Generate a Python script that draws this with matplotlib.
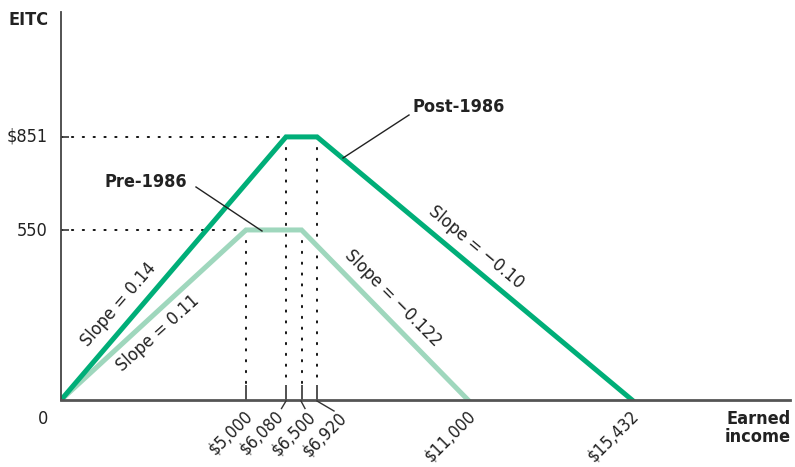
import matplotlib
matplotlib.use("Agg")
import matplotlib.pyplot as plt
from matplotlib.lines import Line2D

plt.rcParams['font.family'] = ['DejaVu Sans']
plt.rcParams['font.stretch'] = 'condensed'

# ---- data ----
post_x = [0, 6080, 6920, 15432]
post_y = [0, 851, 851, 0]
pre_x = [0, 5000, 6500, 11000]
pre_y = [0, 550, 550, 0]
xtick_vals = [5000, 6080, 6500, 6920]
xlabel_vals = [5000, 6080, 6500, 6920, 11000, 15432]
xtick_labels = ['\\$5,000', '\\$6,080', '\\$6,500', '\\$6,920', '\\$11,000', '\\$15,432']
ytick_vals = [550, 851]
ytick_labels = ['550', '\\$851']

POST_C = '#00AE78'
PRE_C = '#9FD7BD'
W, H = 795, 467
XMAX, YMAX = 19700, 1255

fig = plt.figure(figsize=(W / 100, H / 100), dpi=100)
L, R, B, T = 61, 790, 400, 12
ax = fig.add_axes([L / W, 1 - B / H, (R - L) / W, (B - T) / H])
ax.set_xlim(0, XMAX)
ax.set_ylim(0, YMAX)

def fx(px):
    return px / W

def fy(py):
    return 1 - py / H

def dx(px):
    return (px - L) / (R - L) * XMAX

def dy(py):
    return (B - py) / (B - T) * YMAX

dot = dict(color='black', lw=1.3, linestyle=(0, (0.8, 5.2)), dash_capstyle='round', zorder=1)
# horizontal guides
ax.plot([0, post_x[1]], [post_y[1]] * 2, **dot)
ax.plot([0, pre_x[1]], [pre_y[1]] * 2, **dot)
# vertical guides
tick_top = dy(385)
ax.plot([pre_x[1]] * 2, [pre_y[1], tick_top], **dot)
ax.plot([pre_x[2]] * 2, [pre_y[2], tick_top], **dot)
ax.plot([post_x[1]] * 2, [post_y[1], tick_top], **dot)
ax.plot([post_x[2]] * 2, [post_y[2], tick_top], **dot)

ax.plot(pre_x, pre_y, color=PRE_C, lw=3.6, solid_joinstyle='miter', zorder=3)
ax.plot(post_x, post_y, color=POST_C, lw=3.6, solid_joinstyle='miter', zorder=4)

for s in ['top', 'right']:
    ax.spines[s].set_visible(False)
ax.spines['left'].set_color('#444444')
ax.spines['left'].set_linewidth(1.3)
ax.spines['bottom'].set_color('#555555')
ax.spines['bottom'].set_linewidth(2)
ax.spines['left'].set_zorder(5)
ax.spines['bottom'].set_zorder(5)

ax.set_xticks(xtick_vals)
ax.set_xticklabels([])
ax.set_yticks(ytick_vals)
ax.set_yticklabels([])
ax.tick_params(axis='x', direction='in', length=11, width=1.2, color='#333333')
ax.tick_params(axis='y', direction='in', length=6, width=1.2, color='#333333')

fs = 13
tc = '#222222'
# y tick labels
fig.text(fx(48), fy(231), ytick_labels[0], ha='right', va='center', fontsize=fs, color=tc)
fig.text(fx(48), fy(137), ytick_labels[1], ha='right', va='center', fontsize=fs, color=tc)
fig.text(fx(43), fy(419), '0', ha='center', va='center', fontsize=fs, color=tc)

# x tick labels with leaders
anchors = [(244, 407), (275, 407), (307, 408), (338, 409), (467, 407), (630, 407)]
leaders = [None, ((286, 401), (281.5, 408.5)), ((301, 401), (305, 408.5)), ((317, 401), (334, 411)), None, None]
for lab, (ax_px, ay_px), ld in zip(xtick_labels, anchors, leaders):
    fig.text(fx(ax_px), fy(ay_px), lab, ha='right', va='top', rotation=45,
             rotation_mode='anchor', fontsize=12.5, color=tc)
    if ld:
        (x0, y0), (x1, y1) = ld
        fig.add_artist(Line2D([fx(x0), fx(x1)], [fy(y0), fy(y1)], color='#333333', lw=1.0))

# axis titles
fig.text(fx(8), fy(20), 'EITC', ha='left', va='center', fontsize=fs, fontweight='bold', color=tc)
fig.text(fx(791), fy(428), 'Earned\nincome', ha='right', va='center', fontsize=fs,
         fontweight='bold', color=tc, linespacing=1.0)

# series labels with leaders
fig.text(fx(105), fy(182), 'Pre-1986', ha='left', va='center', fontsize=fs, fontweight='bold', color=tc)
ax.plot([dx(196), dx(262)], [dy(187), dy(231)], color='#222222', lw=1.0, zorder=6)
fig.text(fx(413), fy(107), 'Post-1986', ha='left', va='center', fontsize=fs, fontweight='bold', color=tc)
ax.plot([dx(409), dx(343)], [dy(115), dy(158)], color='#222222', lw=1.0, zorder=6)

# slope labels
fig.text(fx(119), fy(305), 'Slope = 0.14', ha='center', va='center', rotation=49,
         rotation_mode='anchor', fontsize=fs, color=tc)
fig.text(fx(158), fy(333), 'Slope = 0.11', ha='center', va='center', rotation=42,
         rotation_mode='anchor', fontsize=fs, color=tc)
fig.text(fx(393), fy(298), 'Slope = \u22120.122', ha='center', va='center', rotation=-45,
         rotation_mode='anchor', fontsize=fs, color=tc)
fig.text(fx(476), fy(247), 'Slope = \u22120.10', ha='center', va='center', rotation=-40,
         rotation_mode='anchor', fontsize=fs, color=tc)

fig.savefig('out.png', dpi=100)
